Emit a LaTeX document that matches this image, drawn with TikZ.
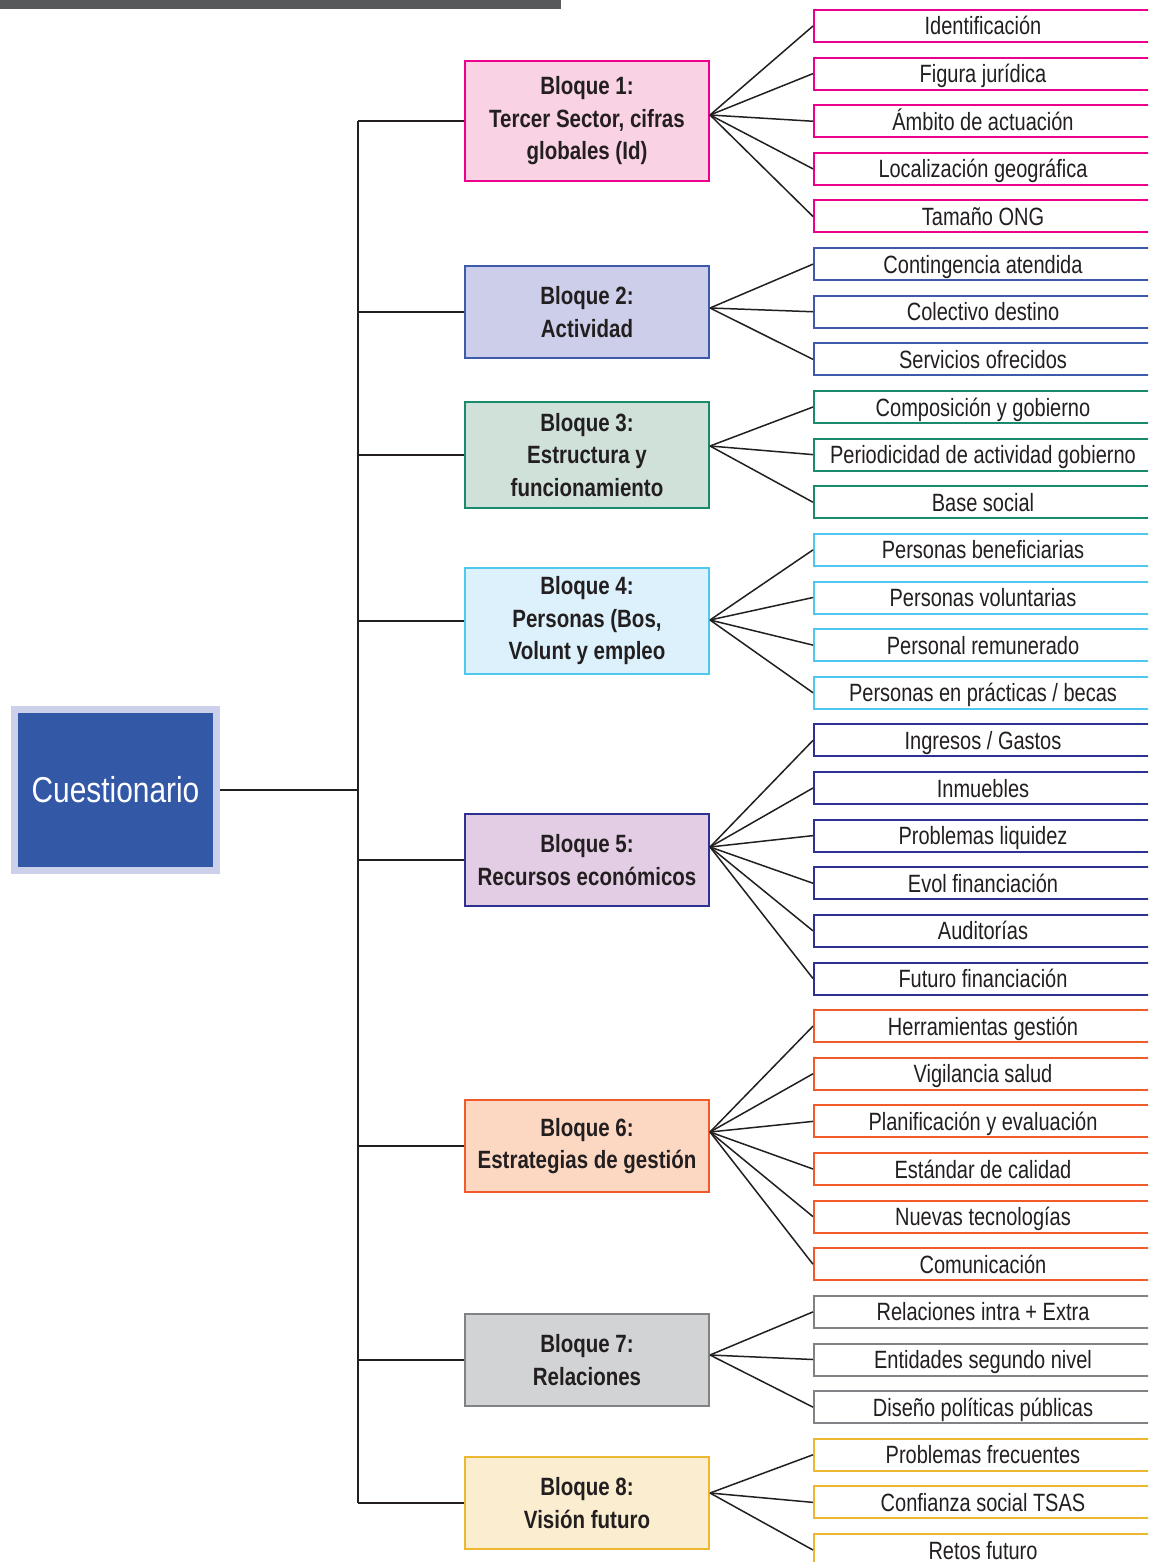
\documentclass[tikz,border=0pt]{standalone}
\usepackage{fontspec}
\setmainfont{Liberation Sans}[FakeStretch=0.8]
\newfontfamily\blockfont{Liberation Sans}[FakeStretch=0.82]
\newfontfamily\qfont{Liberation Sans}[FakeStretch=0.83]
\definecolor{tc}{HTML}{231F20}
\definecolor{lc}{HTML}{231F20}
\definecolor{barc}{HTML}{58595B}
\definecolor{qlav}{HTML}{CDD0EA}
\definecolor{qblue}{HTML}{3358A6}
\definecolor{cA}{HTML}{EC008C}\definecolor{fA}{HTML}{F9D2E4}
\definecolor{cB}{HTML}{3E5BA9}\definecolor{fB}{HTML}{CDCFEA}
\definecolor{cC}{HTML}{1A8A6C}\definecolor{fC}{HTML}{D0E1DA}
\definecolor{cD}{HTML}{4FC8F0}\definecolor{fD}{HTML}{DCF1FB}
\definecolor{cE}{HTML}{2E3192}\definecolor{fE}{HTML}{E3CDE4}
\definecolor{cF}{HTML}{F15A2B}\definecolor{fF}{HTML}{FCD8C3}
\definecolor{cG}{HTML}{808285}\definecolor{fG}{HTML}{D1D3D4}
\definecolor{cH}{HTML}{EDB731}\definecolor{fH}{HTML}{FAEDD0}
\begin{document}
\begin{tikzpicture}[x=1pt,y=-1pt,
  blk/.style={line width=2pt, minimum width=244pt, inner sep=0pt, align=center, text=tc,
    font=\blockfont\bfseries\fontsize{25}{32.5}\selectfont},
  leaf/.style={draw=#1, fill=white, line width=2pt, minimum width=338pt, minimum height=32pt,
    inner sep=0pt, text height=18pt, text depth=0pt, text=tc, font=\fontsize{25}{30}\selectfont},
  conn/.style={line width=1.5pt, draw=lc},
  trunk/.style={line width=2pt, draw=lc}]
\clip (0,0) rectangle (1148,1562);
\fill[white] (0,0) rectangle (1148,1562);
\fill[barc] (0,0) rectangle (561,9);

% root
\node[fill=qblue, draw=qlav, line width=7pt, minimum width=202pt, minimum height=161pt,
  inner sep=0pt, text=white, font=\qfont\fontsize{36}{40}\selectfont] (q) at (115.5,790) {Cuestionario};

% blocks
\node[blk, draw=cA, fill=fA, minimum height=120pt] (b1) at (587,121) {Bloque 1:\\Tercer Sector, cifras\\globales (Id)};
\node[blk, draw=cB, fill=fB, minimum height=92pt] (b2) at (587,312) {Bloque 2:\\Actividad};
\node[blk, draw=cC, fill=fC, minimum height=106pt] (b3) at (587,455) {Bloque 3:\\Estructura y\\funcionamiento};
\node[blk, draw=cD, fill=fD, minimum height=106pt] (b4) at (587,621) {Bloque 4:\\Personas (Bos,\\Volunt y empleo};
\node[blk, draw=cE, fill=fE, minimum height=92pt] (b5) at (587,860) {Bloque 5:\\Recursos económicos};
\node[blk, draw=cF, fill=fF, minimum height=92pt] (b6) at (587,1146) {Bloque 6:\\Estrategias de gestión};
\node[blk, draw=cG, fill=fG, minimum height=92pt] (b7) at (587,1360) {Bloque 7:\\Relaciones};
\node[blk, draw=cH, fill=fH, minimum height=92pt] (b8) at (587,1503) {Bloque 8:\\Visión futuro};

% trunk and junction coordinates
\coordinate (tq) at (358,790);
\foreach \k/\yy in {1/115,2/308,3/446,4/620,5/847,6/1132,7/1355,8/1493}
  \coordinate (j\k) at (710,\yy);

\draw[conn] (q.east) -- (tq);
\draw[trunk] (b1.west -| tq) -- (b8.west -| tq);
\foreach \k in {1,...,8} \draw[conn] (b\k.west -| tq) -- (b\k.west);

% leaves
\foreach \i/\b/\c/\t in {
 0/1/cA/{Identificación}, 1/1/cA/{Figura jurídica}, 2/1/cA/{Ámbito de actuación},
 3/1/cA/{Localización geográfica}, 4/1/cA/{Tamaño ONG},
 5/2/cB/{Contingencia atendida}, 6/2/cB/{Colectivo destino}, 7/2/cB/{Servicios ofrecidos},
 8/3/cC/{Composición y gobierno}, 9/3/cC/{Periodicidad de actividad gobierno}, 10/3/cC/{Base social},
 11/4/cD/{Personas beneficiarias}, 12/4/cD/{Personas voluntarias}, 13/4/cD/{Personal remunerado},
 14/4/cD/{Personas en prácticas / becas},
 15/5/cE/{Ingresos / Gastos}, 16/5/cE/{Inmuebles}, 17/5/cE/{Problemas liquidez},
 18/5/cE/{Evol financiación}, 19/5/cE/{Auditorías}, 20/5/cE/{Futuro financiación},
 21/6/cF/{Herramientas gestión}, 22/6/cF/{Vigilancia salud}, 23/6/cF/{Planificación y evaluación},
 24/6/cF/{Estándar de calidad}, 25/6/cF/{Nuevas tecnologías}, 26/6/cF/{Comunicación},
 27/7/cG/{Relaciones intra + Extra}, 28/7/cG/{Entidades segundo nivel}, 29/7/cG/{Diseño políticas públicas},
 30/8/cH/{Problemas frecuentes}, 31/8/cH/{Confianza social TSAS}, 32/8/cH/{Retos futuro}}
{
  \pgfmathsetmacro\yy{26+47.625*\i}
  \node[leaf=\c] (l\i) at (983,\yy) {\t};
  \draw[conn] (j\b) -- (l\i.west);
}
\end{tikzpicture}
\end{document}
